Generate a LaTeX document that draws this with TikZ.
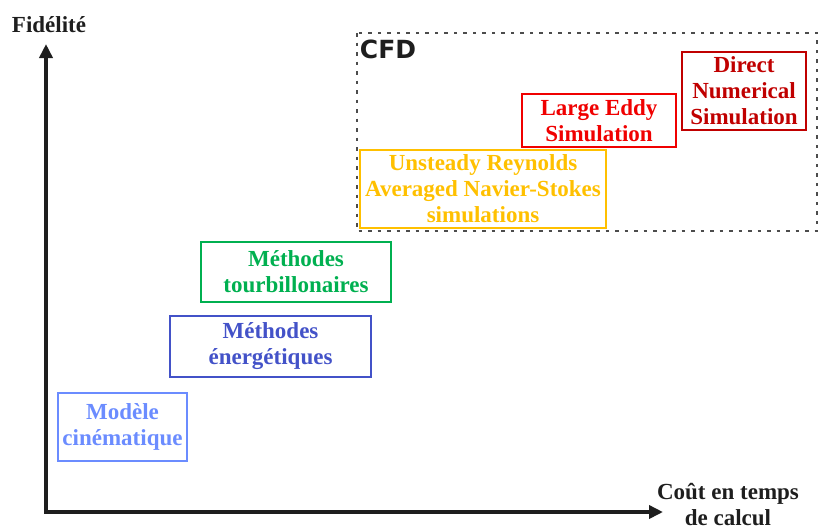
\documentclass[tikz,border=0pt]{standalone}
\usepackage{fontspec}
\setmainfont{Liberation Serif}
\newfontfamily\cfdfont{DejaVu Sans}
\usetikzlibrary{arrows.meta}

\definecolor{dnsred}{HTML}{C00000}
\definecolor{lesred}{HTML}{F00000}
\definecolor{uransgold}{HTML}{FFC000}
\definecolor{vortgreen}{HTML}{00B050}
\definecolor{energblue}{HTML}{4352C8}
\definecolor{cinblue}{HTML}{6B8CFF}
\definecolor{axisgray}{HTML}{1E1E1E}

\tikzset{
  modelbox/.style={draw=#1, text=#1, line width=1.5pt, align=center, inner sep=0pt,
    font=\fontsize{23}{26}\selectfont\bfseries},
  axislabel/.style={align=center, text=axisgray, font=\fontsize{23}{26}\selectfont\bfseries}
}

\begin{document}
\begin{tikzpicture}[x=1pt,y=-1pt]
\useasboundingbox (0,0) rectangle (818,528);

% axes
\coordinate (origin) at (46,512);
\coordinate (ytip) at (46,44);
\coordinate (xtip) at (663,512);
\draw[axisgray, line width=4pt, {Triangle[length=14pt,width=13pt]}-{Triangle[length=14pt,width=13pt]}]
  (ytip) -- (origin) -- (xtip);

\node[axislabel] (fid) at (49,25) {Fidélité};
\node[axislabel, anchor=north] (cout) at (728,480) {Coût en temps\\de calcul};

% CFD region
\draw[gray!60!black, line width=1.5pt, dash pattern=on 3.5pt off 6pt] (357,33) rectangle (817,231);
\node[font=\cfdfont\fontsize{25}{30}\selectfont\bfseries, text=axisgray] (cfd) at (388,49) {CFD};

% models
\node[modelbox=dnsred, minimum width=124pt, minimum height=78pt] (dns) at (744,91)
  {Direct\\Numerical\\Simulation};
\node[modelbox=lesred, minimum width=154pt, minimum height=53pt] (les) at (599,120.5)
  {Large Eddy\\Simulation};
\node[modelbox=uransgold, minimum width=246pt, minimum height=78pt] (urans) at (483,189)
  {Unsteady Reynolds\\Averaged Navier-Stokes\\simulations};
\node[modelbox=vortgreen, minimum width=190pt, minimum height=60pt] (tourb) at (296,272)
  {Méthodes\\tourbillonaires};
\node[modelbox=energblue, minimum width=201pt, minimum height=61pt] (energ) at (270.5,346.5)
  {Méthodes\\énergétiques};
\node[modelbox=cinblue, minimum width=129pt, minimum height=68pt] (cine) at (122.5,427)
  {Modèle\\cinématique};
\end{tikzpicture}
\end{document}
